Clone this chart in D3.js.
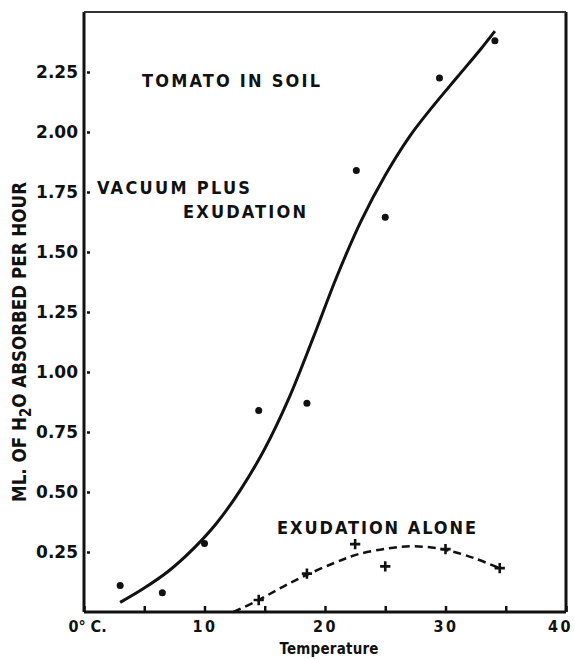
<!DOCTYPE html>
<html>
<head>
<meta charset="utf-8">
<script src="https://cdn.jsdelivr.net/npm/d3@7"></script>
<style>
  body { margin: 0; background: #fff; }
  svg { display: block; }
  .lbl { font-family: "DejaVu Sans Condensed", "DejaVu Sans", sans-serif; font-weight: bold; fill: #111; }
</style>
</head>
<body>
<div id="chart"></div>
<script>
// tomato in soil: water uptake vs temperature
const dotTemp = [3, 6.5, 10, 14.5, 18.5, 22.6, 25, 29.5, 34.1]
const dotWater = [0.11, 0.08, 0.285, 0.84, 0.87, 1.84, 1.645, 2.225, 2.38]

const plusTemp = [14.5, 18.5, 22.5, 25, 30, 34.5]
const plusWater = [0.05, 0.16, 0.283, 0.19, 0.262, 0.183]

// hand drawn fitted curves
const vacuumCurveTemp = [3, 5, 7, 9, 11, 13, 15, 17, 19, 21, 23, 25, 27, 29, 31, 33, 34.1]
const vacuumCurveWater = [0.04, 0.10, 0.17, 0.26, 0.37, 0.51, 0.68, 0.89, 1.14, 1.40, 1.63, 1.82, 1.98, 2.11, 2.23, 2.35, 2.42]

const exudCurveTemp = [12.4, 14.5, 16.5, 18.5, 20.8, 22.7, 25.2, 27.4, 29.9, 32.4, 34.5]
const exudCurveWater = [0, 0.05, 0.105, 0.155, 0.205, 0.24, 0.265, 0.274, 0.26, 0.224, 0.182]

const xTicks = [0, 5, 10, 15, 20, 25, 30, 35, 40]
const xTickLabels = ["0° C.", "", "10", "", "20", "", "30", "", "40"]
const yTicks = [0.25, 0.5, 0.75, 1.0, 1.25, 1.5, 1.75, 2.0, 2.25]

const width = 575, height = 659
const m = { left: 84, right: 9, top: 12, bottom: 47 }

const svg = d3.select('#chart').append('svg')
    .attr('width', width)
    .attr('height', height)

const x = d3.scaleLinear().domain([0, 40]).range([m.left, width - m.right])
const y = d3.scaleLinear().domain([0, 2.5]).range([height - m.bottom, m.top])

/* axes */
const xAxis = d3.axisBottom(x).tickValues(xTicks)
    .tickSize(-6).tickPadding(9)
    .tickFormat((d, i) => xTickLabels[i])
svg.append('g')
    .attr('transform', `translate(0,${y(0)})`)
    .call(xAxis)
    .call(g => g.select('.domain').remove())
    .call(g => g.selectAll('.tick line').attr('stroke', '#111').attr('stroke-width', 2.5))
    .call(g => g.selectAll('.tick text')
        .attr('class', 'lbl')
        .attr('dx', (d, i) => i === 0 ? 3 : (i === 8 ? -6 : 0))
        .style('font-size', '16px')
        .style('letter-spacing', (d, i) => i === 0 ? '0px' : '2.5px'))

const yAxis = d3.axisLeft(y).tickValues(yTicks)
    .tickSize(-6).tickPadding(6)
    .tickFormat(d3.format('.2f'))
svg.append('g')
    .attr('transform', `translate(${x(0)},0)`)
    .call(yAxis)
    .call(g => g.select('.domain').remove())
    .call(g => g.selectAll('.tick line').attr('stroke', '#111').attr('stroke-width', 2.5).attr('x1', 3))
    .call(g => g.selectAll('.tick text')
        .attr('class', 'lbl')
        .style('font-family', '"DejaVu Sans", sans-serif')
        .style('font-size', '17px'))

// frame
const frame = svg.append('g').attr('stroke', '#111').attr('fill', 'none')
frame.append('line').attr('x1', x(0)).attr('x2', x(0)).attr('y1', y(2.5)).attr('y2', y(0)).attr('stroke-width', 3)
frame.append('line').attr('x1', x(0)).attr('x2', x(40)).attr('y1', y(0)).attr('y2', y(0)).attr('stroke-width', 3)
frame.append('line').attr('x1', x(40)).attr('x2', x(40)).attr('y1', y(2.5)).attr('y2', y(0)).attr('stroke-width', 3)
frame.append('line').attr('x1', x(0)).attr('x2', x(40)).attr('y1', y(2.5)).attr('y2', y(2.5)).attr('stroke-width', 2).attr('stroke', '#333')

/* curves */
const line = d3.line().x(d => x(d[0])).y(d => y(d[1])).curve(d3.curveCatmullRom.alpha(0.5))

svg.append('path')
    .datum(d3.zip(vacuumCurveTemp, vacuumCurveWater))
    .attr('d', line)
    .attr('fill', 'none')
    .attr('stroke', '#111')
    .attr('stroke-width', 3)

svg.append('path')
    .datum(d3.zip(exudCurveTemp, exudCurveWater))
    .attr('d', line)
    .attr('fill', 'none')
    .attr('stroke', '#111')
    .attr('stroke-width', 2.5)
    .attr('stroke-dasharray', '8,5')

/* points */
svg.append('g')
    .selectAll('circle')
    .data(d3.zip(dotTemp, dotWater))
    .enter()
    .append('circle')
    .attr('cx', d => x(d[0]))
    .attr('cy', d => y(d[1]))
    .attr('r', 3.5)
    .attr('fill', '#111')

svg.append('g')
    .selectAll('path')
    .data(d3.zip(plusTemp, plusWater))
    .enter()
    .append('path')
    .attr('d', d3.symbol(d3.symbolCross2 || d3.symbolX, 36))
    .attr('transform', d => `translate(${x(d[0])},${y(d[1])}) rotate(${d3.symbolCross2 ? 0 : 45})`)
    .attr('fill', 'none')
    .attr('stroke', '#111')
    .attr('stroke-width', 2.6)

/* labels */
const notes = [
    { t: 'TOMATO IN SOIL', x: 142, y: 87, len: 178 },
    { t: 'VACUUM PLUS', x: 97, y: 194, len: 153 },
    { t: 'EXUDATION', x: 183, y: 218, len: 123 },
    { t: 'EXUDATION ALONE', x: 277, y: 534, len: 199 }
]
svg.selectAll('.note')
    .data(notes)
    .enter()
    .append('text')
    .attr('class', 'lbl note')
    .attr('x', d => d.x)
    .attr('y', d => d.y)
    .attr('textLength', d => d.len)
    .attr('lengthAdjust', 'spacing')
    .style('font-size', '18px')
    .text(d => d.t)

svg.append('text')
    .attr('class', 'lbl')
    .attr('x', (x(0) + x(40)) / 2 + 4)
    .attr('y', 654)
    .attr('text-anchor', 'middle')
    .attr('textLength', 99)
    .attr('lengthAdjust', 'spacing')
    .style('font-size', '15px')
    .text('Temperature')

const yl = svg.append('text')
    .attr('class', 'lbl')
    .attr('transform', 'translate(26,342) rotate(-90)')
    .attr('text-anchor', 'middle')
    .attr('textLength', 320)
    .attr('lengthAdjust', 'spacingAndGlyphs')
    .style('font-size', '20px')
yl.append('tspan').text('ML. OF H')
yl.append('tspan').attr('dy', 5).style('font-size', '16px').text('2')
yl.append('tspan').attr('dy', -5).text('O ABSORBED PER HOUR')
</script>
</body>
</html>
